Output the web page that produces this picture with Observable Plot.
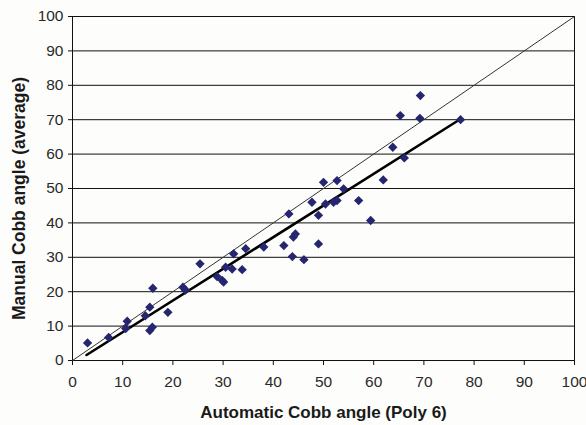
<!DOCTYPE html>
<html>
<head>
<meta charset="utf-8">
<script src="https://cdn.jsdelivr.net/npm/d3@7"></script>
<script src="https://cdn.jsdelivr.net/npm/@observablehq/plot@0.6"></script>
<style>
  html, body { margin: 0; padding: 0; background: #fdfdfb; }
</style>
</head>
<body>
<div id="chart"></div>
<script>
const autoAngle = [3, 7.2, 10.6, 10.9, 14.5, 15.4, 16, 15.4, 15.9, 19, 22, 22.5, 25.4, 28.8, 30.1, 29.8, 30.5, 31.8, 33.8, 32.1, 34.5, 38.1, 42.1, 44, 44.4, 43.1, 49, 49, 43.8, 46.1, 47.7, 50.4, 52, 52.7, 57, 59.4, 54, 50, 52.7, 61.9, 63.8, 66.1, 65.3, 69.2, 69.3, 77.3];
const manualAngle = [5.1, 6.7, 9.3, 11.4, 13, 15.5, 21, 8.7, 9.7, 14, 21.3, 20.5, 28.1, 24.4, 22.8, 23.3, 27.1, 26.6, 26.4, 31, 32.5, 33, 33.4, 35.9, 36.8, 42.6, 42.2, 33.9, 30.2, 29.3, 46, 45.5, 46, 46.5, 46.5, 40.7, 49.9, 51.8, 52.3, 52.5, 62, 58.9, 71.2, 70.4, 77, 70];
const identityX = [0, 100];
const identityY = [0, 100];
const fitX = [2.8, 77.3];
const fitY = [1.6, 70.2];
const xTicks = [0, 10, 20, 30, 40, 50, 60, 70, 80, 90, 100];
const yTicks = [0, 10, 20, 30, 40, 50, 60, 70, 80, 90, 100];
const xTitle = "Automatic Cobb angle (Poly 6)";
const yTitle = "Manual Cobb angle (average)";

const points = autoAngle.map((x, i) => ({x, y: manualAngle[i]}));
const identity = identityX.map((x, i) => ({x, y: identityY[i]}));
const fit = fitX.map((x, i) => ({x, y: fitY[i]}));

const chart = Plot.plot({
  width: 586,
  height: 425,
  marginLeft: 72,
  marginRight: 12,
  marginTop: 16,
  marginBottom: 65,
  x: {domain: [0, 100]},
  y: {domain: [0, 100]},
  style: {fontFamily: "'Liberation Sans', Arial, sans-serif", fontSize: "15.5px", color: "#2a2a2a", background: "#fdfdfb"},
  marks: [
    Plot.ruleY(yTicks, {stroke: "#111", strokeWidth: 1}),
    Plot.frame({stroke: "#111", strokeWidth: 1}),
    Plot.axisX({ticks: xTicks, tickSize: 5, tickPadding: 10, label: null, stroke: "#111"}),
    Plot.axisY({ticks: yTicks, tickSize: 4, tickPadding: 5, label: null, stroke: "#111"}),
    Plot.line(identity, {x: "x", y: "y", stroke: "#333", strokeWidth: 1}),
    Plot.line(fit, {x: "x", y: "y", stroke: "#000", strokeWidth: 2.6}),
    Plot.dot(points, {x: "x", y: "y", symbol: "diamond2", r: 4.2, fill: "#262670", stroke: "none"}),
    Plot.text([xTitle], {frameAnchor: "bottom", lineAnchor: "middle", dy: 52, fontWeight: "bold", fontSize: 17, fill: "#1a1a1a"}),
    Plot.text([yTitle], {frameAnchor: "left", textAnchor: "middle", lineAnchor: "middle", dx: -53, dy: 10, rotate: -90, fontWeight: "bold", fontSize: 17.5, fill: "#1a1a1a"})
  ]
});
document.getElementById("chart").appendChild(chart);
</script>
</body>
</html>
